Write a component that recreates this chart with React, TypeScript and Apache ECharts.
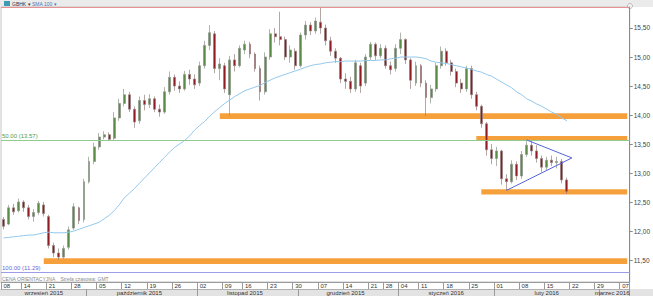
import React, { useEffect, useRef } from 'react';
import * as echarts from 'echarts';

// [date, open, close, low, high]
const candles: [string, number, number, number, number][] = [
  ['2015-09-08', 12.20, 12.08, 12.03, 12.24],
  ['2015-09-09', 12.12, 12.40, 12.10, 12.45],
  ['2015-09-10', 12.40, 12.33, 12.28, 12.47],
  ['2015-09-11', 12.35, 12.50, 12.32, 12.56],
  ['2015-09-14', 12.50, 12.40, 12.33, 12.53],
  ['2015-09-15', 12.40, 12.25, 12.20, 12.45],
  ['2015-09-16', 12.25, 12.32, 12.16, 12.38],
  ['2015-09-17', 12.32, 12.48, 12.28, 12.52],
  ['2015-09-18', 12.45, 12.30, 12.25, 12.50],
  ['2015-09-21', 12.25, 11.75, 11.70, 12.28],
  ['2015-09-22', 11.75, 11.62, 11.55, 11.80],
  ['2015-09-23', 11.62, 11.55, 11.50, 11.70],
  ['2015-09-24', 11.55, 11.70, 11.52, 11.75],
  ['2015-09-25', 11.72, 12.02, 11.68, 12.08],
  ['2015-09-28', 12.05, 12.42, 12.02, 12.48],
  ['2015-09-29', 12.40, 12.18, 12.12, 12.42],
  ['2015-09-30', 12.20, 12.85, 12.15, 12.90],
  ['2015-10-01', 12.85, 13.20, 12.82, 13.28],
  ['2015-10-02', 13.20, 13.45, 13.15, 13.52],
  ['2015-10-05', 13.45, 13.62, 13.40, 13.69],
  ['2015-10-06', 13.62, 13.66, 13.58, 13.72],
  ['2015-10-07', 13.66, 13.58, 13.55, 13.70],
  ['2015-10-08', 13.60, 13.95, 13.57, 14.05],
  ['2015-10-09', 13.95, 14.20, 13.90, 14.28],
  ['2015-10-12', 14.20, 14.35, 14.15, 14.45],
  ['2015-10-13', 14.35, 14.10, 14.05, 14.40],
  ['2015-10-14', 14.10, 13.88, 13.78, 14.15],
  ['2015-10-15', 13.90, 14.25, 13.85, 14.32],
  ['2015-10-16', 14.25, 14.18, 14.08, 14.35],
  ['2015-10-19', 14.18, 14.28, 14.12, 14.36],
  ['2015-10-20', 14.28, 14.10, 14.05, 14.32],
  ['2015-10-21', 14.10, 14.05, 13.97, 14.18],
  ['2015-10-22', 14.05, 14.40, 14.02, 14.48],
  ['2015-10-23', 14.40, 14.65, 14.35, 14.75],
  ['2015-10-26', 14.65, 14.50, 14.42, 14.70],
  ['2015-10-27', 14.50, 14.45, 14.38, 14.58],
  ['2015-10-28', 14.45, 14.70, 14.42, 14.76],
  ['2015-10-29', 14.70, 14.62, 14.52, 14.78],
  ['2015-10-30', 14.62, 14.52, 14.45, 14.70],
  ['2015-11-02', 14.55, 14.85, 14.50, 14.92],
  ['2015-11-03', 14.85, 15.20, 14.80, 15.28],
  ['2015-11-04', 15.20, 15.42, 15.12, 15.55],
  ['2015-11-05', 15.40, 14.80, 14.72, 15.45],
  ['2015-11-06', 14.80, 14.88, 14.60, 14.98],
  ['2015-11-09', 14.85, 14.45, 14.38, 14.90],
  ['2015-11-10', 14.35, 14.95, 13.98, 15.02],
  ['2015-11-12', 14.95, 14.85, 14.75, 15.05],
  ['2015-11-13', 14.85, 15.15, 14.82, 15.20],
  ['2015-11-16', 15.12, 15.22, 15.05, 15.28],
  ['2015-11-17', 15.22, 15.05, 14.98, 15.26],
  ['2015-11-18', 15.05, 14.80, 14.75, 15.08],
  ['2015-11-19', 14.80, 14.40, 14.25, 14.85],
  ['2015-11-20', 14.40, 15.00, 14.35, 15.08],
  ['2015-11-23', 15.00, 15.40, 14.95, 15.48],
  ['2015-11-24', 15.40, 15.35, 15.25, 15.50],
  ['2015-11-25', 15.35, 15.30, 15.20, 15.78],
  ['2015-11-26', 15.30, 15.00, 14.95, 15.35],
  ['2015-11-27', 15.00, 15.12, 14.90, 15.20],
  ['2015-11-30', 15.10, 14.85, 14.78, 15.15],
  ['2015-12-01', 14.85, 15.38, 14.82, 15.42],
  ['2015-12-02', 15.38, 15.55, 15.30, 15.62],
  ['2015-12-03', 15.55, 15.45, 15.38, 15.60],
  ['2015-12-04', 15.45, 15.62, 15.40, 15.68],
  ['2015-12-07', 15.60, 15.50, 15.40, 15.85],
  ['2015-12-08', 15.50, 15.28, 15.20, 15.56],
  ['2015-12-09', 15.28, 15.10, 15.02, 15.35],
  ['2015-12-10', 15.10, 14.98, 14.90, 15.15],
  ['2015-12-11', 14.98, 14.62, 14.55, 15.00],
  ['2015-12-14', 14.62, 14.58, 14.45, 14.72],
  ['2015-12-15', 14.58, 14.45, 14.38, 14.66],
  ['2015-12-16', 14.45, 14.90, 14.40, 14.95],
  ['2015-12-17', 14.85, 14.50, 14.38, 14.90],
  ['2015-12-18', 14.55, 15.00, 14.50, 15.05],
  ['2015-12-21', 15.00, 15.22, 14.95, 15.26],
  ['2015-12-22', 15.22, 15.02, 14.95, 15.25],
  ['2015-12-23', 15.02, 15.15, 14.98, 15.22],
  ['2015-12-28', 15.15, 14.85, 14.80, 15.20],
  ['2015-12-29', 14.85, 14.78, 14.70, 14.92],
  ['2015-12-30', 14.80, 15.15, 14.75, 15.22],
  ['2016-01-04', 15.15, 15.30, 15.05, 15.42],
  ['2016-01-05', 15.30, 14.95, 14.88, 15.32],
  ['2016-01-07', 14.95, 14.60, 14.45, 14.98],
  ['2016-01-08', 14.55, 14.85, 14.50, 14.92],
  ['2016-01-11', 14.85, 14.55, 14.48, 14.88],
  ['2016-01-12', 14.55, 14.30, 13.98, 14.60],
  ['2016-01-13', 14.30, 14.45, 14.20, 14.52],
  ['2016-01-14', 14.45, 14.85, 14.40, 14.90],
  ['2016-01-15', 14.85, 15.10, 14.80, 15.18],
  ['2016-01-18', 15.10, 14.90, 14.85, 15.15],
  ['2016-01-19', 14.90, 14.75, 14.68, 14.95],
  ['2016-01-20', 14.75, 14.55, 14.48, 14.80],
  ['2016-01-21', 14.55, 14.45, 14.38, 14.62],
  ['2016-01-22', 14.45, 14.80, 14.40, 14.85],
  ['2016-01-25', 14.80, 14.35, 14.28, 14.85],
  ['2016-01-26', 14.35, 14.15, 14.08, 14.40],
  ['2016-01-27', 14.15, 13.85, 13.78, 14.18],
  ['2016-01-28', 13.85, 13.40, 13.30, 13.88],
  ['2016-01-29', 13.40, 13.25, 13.15, 13.50],
  ['2016-02-01', 13.25, 13.38, 13.12, 13.45],
  ['2016-02-02', 13.38, 12.90, 12.80, 13.40],
  ['2016-02-03', 12.90, 12.85, 12.70, 12.98],
  ['2016-02-04', 12.85, 13.15, 12.82, 13.22],
  ['2016-02-05', 13.15, 12.95, 12.88, 13.20],
  ['2016-02-08', 12.95, 13.32, 12.90, 13.38],
  ['2016-02-09', 13.32, 13.48, 13.28, 13.57],
  ['2016-02-10', 13.48, 13.38, 13.30, 13.55],
  ['2016-02-11', 13.38, 13.25, 13.18, 13.48],
  ['2016-02-12', 13.25, 13.10, 13.02, 13.30],
  ['2016-02-15', 13.10, 13.22, 13.05, 13.28],
  ['2016-02-16', 13.22, 13.18, 13.12, 13.30],
  ['2016-02-17', 13.18, 13.20, 13.08, 13.28],
  ['2016-02-18', 13.20, 12.88, 12.82, 13.24],
  ['2016-02-19', 12.88, 12.68, 12.64, 12.92],
];

// SMA 100, one value per candle
const smaValues: number[] = [
  11.88, 11.89, 11.90, 11.91, 11.92, 11.93, 11.93, 11.95, 11.97, 11.98, 11.97, 11.97, 11.97, 11.98, 12.00, 12.03, 12.06,
  12.09, 12.12, 12.15, 12.21, 12.27, 12.35, 12.45, 12.57, 12.65, 12.73, 12.82, 12.91, 13.00, 13.09, 13.18, 13.27, 13.36, 13.44, 13.50, 13.56, 13.64, 13.74,
  13.82, 13.89, 13.98, 14.06, 14.13, 14.20, 14.26, 14.32, 14.37, 14.42, 14.45, 14.48, 14.51, 14.56, 14.60, 14.64, 14.67, 14.70, 14.73, 14.76,
  14.79, 14.82, 14.85, 14.87, 14.88, 14.90, 14.91, 14.92, 14.92, 14.93, 14.93, 14.93, 14.93, 14.94, 14.94, 14.94, 14.95, 14.95, 14.97, 14.98,
  15.00, 15.00, 15.00, 15.00, 14.99, 14.97, 14.93, 14.91, 14.90, 14.89, 14.87, 14.85, 14.83, 14.81, 14.79, 14.76, 14.74, 14.70, 14.67,
  14.62, 14.57, 14.52, 14.47, 14.40, 14.35, 14.28, 14.24, 14.19, 14.15, 14.10, 14.05, 14.01, 13.95, 13.90,
];

const futureDates = [
  '2016-02-22', '2016-02-23', '2016-02-24', '2016-02-25', '2016-02-26', '2016-02-29',
  '2016-03-01', '2016-03-02', '2016-03-03', '2016-03-04', '2016-03-07', '2016-03-08',
];

const tickDates = [
  '2015-09-08', '2015-09-14', '2015-09-21', '2015-09-28', '2015-10-05', '2015-10-12', '2015-10-19', '2015-10-26',
  '2015-11-02', '2015-11-09', '2015-11-16', '2015-11-23', '2015-11-30', '2015-12-07', '2015-12-14', '2015-12-21',
  '2015-12-28', '2016-01-04', '2016-01-11', '2016-01-18', '2016-01-25', '2016-02-01', '2016-02-08', '2016-02-15',
  '2016-02-22', '2016-02-29', '2016-03-07',
];

const monthStarts = ['2015-10-01', '2015-11-02', '2015-12-01', '2016-01-04', '2016-02-01', '2016-03-01'];
const monthLabelDates = ['2015-09-18', '2015-10-15', '2015-11-16', '2015-12-14', '2016-01-18', '2016-02-15', '2016-03-03'];
const monthNames: Record<string, string> = {
  '2015-09': 'wrzesień 2015',
  '2015-10': 'październik 2015',
  '2015-11': 'listopad 2015',
  '2015-12': 'grudzień 2015',
  '2016-01': 'styczeń 2016',
  '2016-02': 'luty 2016',
  '2016-03': 'marzec 2016',
};

// support / resistance bands: start date, low, high
const bandStarts = ['2015-09-18', '2015-11-06', '2016-01-26', '2016-01-27'];
const bandLows = [11.43, 13.93, 13.55, 12.63];
const bandHighs = [11.53, 14.03, 13.64, 12.72];

// Fibonacci levels
const fibValues = [15.85, 13.57, 11.29];
const fibLabels = ['', '50.00 (13.57)', '100.00 (11.29)'];
const fibColors = ['#e79292', '#8fca8f', '#9c9ce8'];
const fibTextColors = ['#d06060', '#4f9a4f', '#6a6ad8'];

// triangle (start date, start value) -> apex
const triStartDates = ['2016-02-03', '2016-02-09'];
const triStartValues = [12.70, 13.57];
const triApexDate = '2016-02-22';
const triApexValue = 13.26;

const yMin = 11.121;
const yMax = 15.862;

export default function App() {
  const ref = useRef<HTMLDivElement>(null);

  useEffect(() => {
    if (!ref.current) return;
    const chart = echarts.init(ref.current, undefined, { renderer: 'svg' });
    const categories = candles.map((c) => c[0]).concat(futureDates);
    const lastCat = categories[categories.length - 1];
    const tickSet = new Set(tickDates);
    const monthStartSet = new Set(monthStarts);
    const monthLabelSet = new Set(monthLabelDates);
    const font = 'Liberation Sans, Arial, sans-serif';

    const markLineData: any[] = fibValues.map((v, i) => ({
      yAxis: v,
      lineStyle: { color: fibColors[i], width: 1, type: 'solid' },
      label: {
        show: fibLabels[i] !== '',
        position: 'insideStartTop',
        formatter: fibLabels[i],
        color: fibTextColors[i],
        fontSize: 6,
        fontFamily: font,
        distance: 1,
      },
    }));
    triStartDates.forEach((d, i) => {
      markLineData.push([
        { coord: [d, triStartValues[i]], lineStyle: { color: '#5566d4', width: 1, type: 'solid' }, label: { show: false } },
        { coord: [triApexDate, triApexValue] },
      ]);
    });

    const option: any = {
      animation: false,
      backgroundColor: 'transparent',
      grid: {
        left: 1,
        right: 20,
        top: 7,
        bottom: 14,
        show: true,
        backgroundColor: '#ffffff',
        borderColor: '#c4c4c4',
        borderWidth: 1,
      },
      xAxis: [
        {
          type: 'category',
          data: categories,
          boundaryGap: true,
          axisLine: { show: true, lineStyle: { color: '#9a9a9a' } },
          axisTick: {
            show: true,
            interval: (_i: number, v: string) => tickSet.has(v),
            length: 7,
            lineStyle: { color: '#9a9a9a' },
          },
          axisLabel: {
            interval: (_i: number, v: string) => tickSet.has(v),
            formatter: (v: string) => v.slice(8),
            align: 'left',
            margin: 1,
            fontSize: 6,
            color: '#333',
            fontFamily: font,
          },
          splitLine: { show: false },
        },
        {
          type: 'category',
          data: categories,
          position: 'bottom',
          offset: 7,
          boundaryGap: true,
          axisLine: { show: true, lineStyle: { color: '#b0b0b0' } },
          axisTick: {
            show: true,
            interval: (_i: number, v: string) => monthStartSet.has(v),
            length: 7,
            lineStyle: { color: '#9a9a9a' },
          },
          axisLabel: {
            interval: (_i: number, v: string) => monthLabelSet.has(v),
            formatter: (v: string) => monthNames[v.slice(0, 7)] || '',
            margin: 1,
            fontSize: 6,
            color: '#333',
            fontFamily: font,
          },
          splitLine: { show: false },
        },
      ],
      yAxis: {
        type: 'value',
        position: 'right',
        min: yMin,
        max: yMax,
        splitNumber: 9,
        minInterval: 0.5,
        maxInterval: 0.5,
        axisLine: { show: true, lineStyle: { color: '#8a8a8a' } },
        axisTick: { show: true, length: 3, lineStyle: { color: '#8a8a8a' } },
        splitLine: { show: false },
        axisLabel: {
          showMinLabel: false,
          showMaxLabel: false,
          margin: 4,
          fontSize: 6.5,
          color: '#444',
          fontFamily: font,
          formatter: (v: number) => {
            const r = Math.round(v * 2) / 2;
            return Math.abs(v - r) < 1e-6 ? v.toFixed(2).replace('.', ',') : '';
          },
        },
      },
      series: [
        {
          type: 'candlestick',
          xAxisIndex: 0,
          data: candles.map((c) => [c[1], c[2], c[3], c[4]]),
          barWidth: 2.4,
          itemStyle: {
            color: '#5a8c46',
            color0: '#8e1c22',
            borderColor: '#8c9488',
            borderColor0: '#94807e',
            borderWidth: 0.7,
          },
          emphasis: { disabled: true },
          markArea: {
            silent: true,
            itemStyle: { color: '#f6a03c' },
            data: bandStarts.map((d, i) => [
              { xAxis: d, yAxis: bandLows[i] },
              { xAxis: lastCat, yAxis: bandHighs[i] },
            ]),
          },
          markLine: {
            silent: true,
            symbol: ['none', 'none'],
            label: { show: false },
            data: markLineData,
          },
        },
        {
          type: 'line',
          xAxisIndex: 0,
          data: smaValues,
          showSymbol: false,
          symbol: 'none',
          lineStyle: { color: '#93c8ec', width: 1 },
          z: 4,
          emphasis: { disabled: true },
        },
      ],
      graphic: [
        { type: 'rect', shape: { x: 4, y: 1, width: 6, height: 5 }, style: { fill: '#3d9bb3' } },
        { type: 'text', x: 12, y: 1, style: { text: 'GBHK ▾', fontSize: 5, fill: '#333', fontFamily: font } },
        { type: 'text', x: 32, y: 1, style: { text: 'SMA 100 ▾', fontSize: 5, fill: '#4a78b8', fontFamily: font } },
        { type: 'circle', shape: { cx: 630, cy: 6, r: 2.5 }, style: { fill: '#f4f4f4', stroke: '#999', lineWidth: 0.6 } },
        {
          type: 'text',
          x: 2,
          y: 276,
          style: { text: 'CENA ORIENTACYJNA    Strefa czasowa: GMT', fontSize: 5, fill: '#8a8a8a', fontFamily: font },
        },
      ],
    };

    chart.setOption(option);
    return () => chart.dispose();
  }, []);

  return (
    <div
      ref={ref}
      style={{
        position: 'absolute',
        left: 0,
        top: 0,
        width: 653,
        height: 296,
        background:
          'linear-gradient(to bottom, #ebebeb 0px, #ebebeb 7px, #ffffff 7px, #ffffff 289px, #e3e3e3 289px, #e3e3e3 296px)',
      }}
    />
  );
}
